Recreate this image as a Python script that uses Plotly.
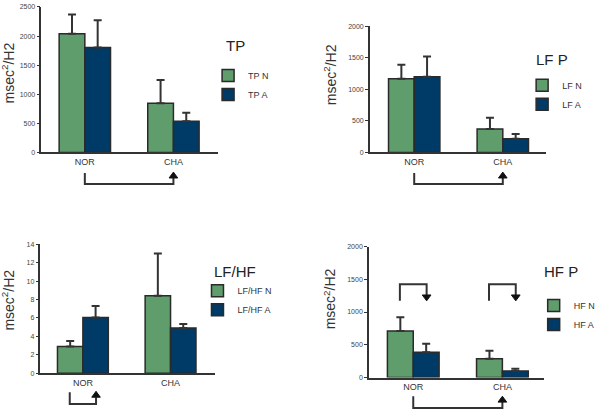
import plotly.graph_objects as go

# ---------------- data ----------------
groups = ["NOR", "CHA"]

tp_n = [2040, 845]
tp_n_err = [330, 400]
tp_a = [1805, 535]
tp_a_err = [465, 145]

lf_n = [1170, 370]
lf_n_err = [220, 180]
lf_a = [1200, 218]
lf_a_err = [320, 75]

lfhf_n = [2.9, 8.4]
lfhf_n_err = [0.6, 4.6]
lfhf_a = [6.05, 4.9]
lfhf_a_err = [1.25, 0.45]

hf_n = [710, 285]
hf_n_err = [210, 125]
hf_a = [385, 100]
hf_a_err = [130, 35]

# ---------------- style ----------------
W, H = 600, 412
GREEN = "#5f9d6d"
NAVY = "#003a66"
EDGE = "#2a2a2a"
LINE = "#333333"
FONT = "Liberation Sans, Arial, sans-serif"


def fx(px):
    return px / W


def fy(py):
    return 1 - py / H


panels = [
    dict(n=tp_n, ne=tp_n_err, a=tp_a, ae=tp_a_err, names=("TP N", "TP A"), title="TP",
         xpx=(43, 226), ypx=(151, 3), yr=(0, 2500), dtick=500, xr=(-0.49, 1.5),
         title_xy=(244, 42), ylab_xy=(8, 70), leg_xy=(216, 58)),
    dict(n=lf_n, ne=lf_n_err, a=lf_a, ae=lf_a_err, names=("LF N", "LF A"), title="LF P",
         xpx=(384, 567), ypx=(151, 22.7), yr=(0, 2000), dtick=500, xr=(-0.5, 1.49),
         title_xy=(573, 56), ylab_xy=(342, 72), leg_xy=(542, 68)),
    dict(n=lfhf_n, ne=lfhf_n_err, a=lfhf_a, ae=lfhf_a_err, names=("LF/HF N", "LF/HF A"), title="LF/HF",
         xpx=(42, 223), ypx=(375.7, 244.3), yr=(0, 14), dtick=2, xr=(-0.484, 1.505),
         title_xy=(244, 272), ylab_xy=(8, 301), leg_xy=(205, 277)),
    dict(n=hf_n, ne=hf_n_err, a=hf_a, ae=hf_a_err, names=("HF N", "HF A"), title="HF P",
         xpx=(383, 565), ypx=(380, 246.7), yr=(0, 2000), dtick=500, xr=(-0.497, 1.47),
         title_xy=(582, 272), ylab_xy=(342, 300), leg_xy=(554, 292)),
]

fig = go.Figure()
shapes = []
annotations = []

for i, p in enumerate(panels, start=1):
    xa = "x" if i == 1 else f"x{i}"
    ya = "y" if i == 1 else f"y{i}"
    lg = "legend" if i == 1 else f"legend{i}"
    for vals, errs, name, col in ((p["n"], p["ne"], p["names"][0], GREEN),
                                  (p["a"], p["ae"], p["names"][1], NAVY)):
        fig.add_trace(go.Bar(
            x=groups, y=vals, name=name, xaxis=xa, yaxis=ya, legend=lg,
            marker=dict(color=col, line=dict(color=EDGE, width=1.5)),
            error_y=dict(type="data", array=errs, arrayminus=[0] * len(errs), symmetric=False,
                         color=LINE, thickness=2, width=4),
            offsetgroup=name[-1],
        ))
    xkey = "xaxis" if i == 1 else f"xaxis{i}"
    ykey = "yaxis" if i == 1 else f"yaxis{i}"
    fig.layout[xkey] = dict(
        domain=[fx(p["xpx"][0]), fx(p["xpx"][1])], anchor=ya, type="category",
        range=list(p["xr"]), showline=True, linecolor=LINE, linewidth=1.5,
        ticks="", showgrid=False, zeroline=False,
        tickfont=dict(family=FONT, size=9, color="#333"),
    )
    fig.layout[ykey] = dict(
        domain=[fy(p["ypx"][0]), fy(p["ypx"][1])], anchor=xa,
        range=list(p["yr"]), dtick=p["dtick"], showline=True, linecolor=LINE, linewidth=1.5,
        ticks="outside", ticklen=3, tickwidth=1, tickcolor=LINE,
        showgrid=False, zeroline=False,
        tickfont=dict(family=FONT, size=7, color="#444"),
    )
    fig.layout[lg] = dict(
        x=fx(p["leg_xy"][0]), y=fy(p["leg_xy"][1]), xanchor="left", yanchor="top",
        bgcolor="rgba(0,0,0,0)", borderwidth=0, tracegroupgap=0,
        font=dict(family=FONT, size=9, color="#333"),
    )
    annotations.append(dict(text=p["title"], x=fx(p["title_xy"][0]), y=fy(p["title_xy"][1]),
                            xref="paper", yref="paper", showarrow=False,
                            xanchor="center", yanchor="middle",
                            font=dict(family=FONT, size=15, color="#222")))
    annotations.append(dict(text="msec<sup>2</sup>/H2", x=fx(p["ylab_xy"][0]), y=fy(p["ylab_xy"][1]),
                            xref="paper", yref="paper", showarrow=False, textangle=-90,
                            xanchor="center", yanchor="middle",
                            font=dict(family=FONT, size=14, color="#333")))


def bracket_arrow(xa, x0, x1, y_start, y_bar, y_tip, hw):
    """elbow connector from (x0, y_start) via y_bar to (x1, y_tip) with triangular head (pixels for y)."""
    head = 6 if y_tip < y_bar else -6
    y_base = y_tip + head
    path = (f"M{x0},{fy(y_start)} L{x0},{fy(y_bar)} L{x1},{fy(y_bar)} L{x1},{fy(y_base)}")
    shapes.append(dict(type="path", path=path, xref=xa, yref="paper",
                       line=dict(color=LINE, width=2)))
    tri = (f"M{x1 - hw},{fy(y_base)} L{x1 + hw},{fy(y_base)} L{x1},{fy(y_tip)} Z")
    shapes.append(dict(type="path", path=tri, xref=xa, yref="paper",
                       fillcolor="#111", line=dict(color="#111", width=1)))


hw = 4.5 / 92
# TP: NOR -> CHA
bracket_arrow("x", 0, 1, 172, 183, 171, hw)
# LF P: NOR -> CHA
bracket_arrow("x2", 0, 1, 172, 183, 171, hw)
# LF/HF: NOR N -> NOR A
bracket_arrow("x3", -0.15, 0.15, 395, 407, 394, hw)
# HF P: NOR N -> NOR A (down), CHA N -> CHA A (down), NOR -> CHA
bracket_arrow("x4", -0.15, 0.15, 302, 285, 302, hw)
bracket_arrow("x4", 0.85, 1.15, 302, 285, 302, hw)
bracket_arrow("x4", 0, 1, 399, 411, 399, hw)

fig.update_layout(
    width=W, height=H, margin=dict(l=0, r=0, t=0, b=0),
    paper_bgcolor="white", plot_bgcolor="white",
    barmode="group", bargap=0.42, bargroupgap=0,
    shapes=shapes, annotations=annotations,
    font=dict(family=FONT, color="#333"),
)

fig.write_html("out.html")
